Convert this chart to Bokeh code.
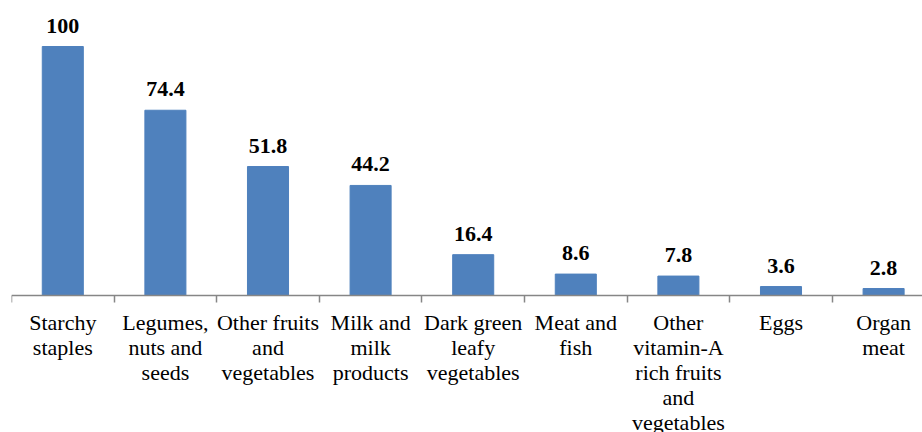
from bokeh.plotting import figure
from bokeh.models import ColumnDataSource, Range1d, FixedTicker, LabelSet
from bokeh.core.properties import value
from bokeh.embed import file_html
from bokeh.resources import INLINE

categories = ["Starchy\nstaples", "Legumes,\nnuts and\nseeds", "Other fruits\nand\nvegetables",
              "Milk and\nmilk\nproducts", "Dark green\nleafy\nvegetables", "Meat and\nfish",
              "Other\nvitamin-A\nrich fruits\nand\nvegetables", "Eggs", "Organ\nmeat"]
values = [100, 74.4, 51.8, 44.2, 16.4, 8.6, 7.8, 3.6, 2.8]
value_labels = ["100", "74.4", "51.8", "44.2", "16.4", "8.6", "7.8", "3.6", "2.8"]

centers = [i + 0.5 for i in range(len(categories))]
bounds = [i for i in range(len(categories) + 1)]

src = ColumnDataSource(dict(x=centers, top=values, lab=value_labels,
                            cat=categories, base=[0] * len(categories)))

W, H = 922, 432
LEFT = 11          # frame left edge (px)
CAT_W = 102.6      # px per category
AXIS_Y = 295       # px of the baseline
PX = 2.49          # px per data unit

p = figure(width=W, height=H, output_backend="svg", toolbar_location=None,
           x_range=Range1d(0, (W - LEFT) / CAT_W),
           y_range=Range1d(-(H - AXIS_Y) / PX, AXIS_Y / PX),
           min_border_left=LEFT, min_border_right=0, min_border_top=0, min_border_bottom=0)
p.outline_line_color = None
p.grid.visible = False
p.yaxis.visible = False
p.background_fill_color = "white"
p.border_fill_color = "white"

p.vbar(x="x", top="top", width=0.4, bottom=0, source=src,
       fill_color="#4F81BD", line_color="#4F81BD")

labels = LabelSet(x="x", y="top", text="lab", source=src, y_offset=14,
                  text_align="center", text_baseline="alphabetic",
                  text_font="Liberation Serif", text_font_style="bold",
                  text_font_size="22px", text_color="black")
p.add_layout(labels)

p.text(x="x", y="base", text="cat", source=src, y_offset=14,
       text_align="center", text_baseline="top",
       text_font=value("Liberation Serif"), text_font_size="22px", text_color="black",
       text_line_height=1.0)

ax = p.xaxis[0]
ax.fixed_location = 0
ax.ticker = FixedTicker(ticks=bounds)
ax.major_label_overrides = {b: "" for b in bounds}
ax.major_label_text_font_size = "0px"
ax.major_tick_out = 7
ax.major_tick_in = 0
ax.minor_tick_out = 0
ax.minor_tick_in = 0
ax.axis_line_color = "#868686"
ax.axis_line_width = 1.5
ax.major_tick_line_color = "#868686"
ax.major_tick_line_width = 1.5

open("out.html", "w").write(file_html(p, INLINE))
